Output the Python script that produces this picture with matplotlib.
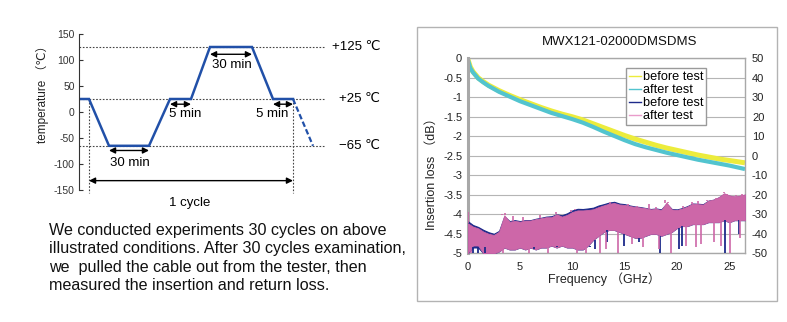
import numpy as np
import matplotlib
matplotlib.use("Agg")
import matplotlib.pyplot as plt
from matplotlib.patches import Rectangle
from matplotlib.lines import Line2D

plt.rcParams["font.family"] = ["Liberation Sans", "DejaVu Sans", "Noto Sans CJK JP"]
plt.rcParams["axes.unicode_minus"] = False

# ---------------- thermal cycle profile ----------------
profile_time = [0, 10, 30, 70, 91, 112, 131, 173, 194, 214]
profile_temp = [25, 25, -65, -65, 25, 25, 125, 125, 25, 25]
next_cycle_time = [214, 234]
next_cycle_temp = [25, -65]
level_temps = [125, 25, -65]
level_labels = ["+125 ℃", "+25 ℃", "−65 ℃"]
temp_ticks = [150, 100, 50, 0, -50, -100, -150]
dwell_labels = ["30 min", "30 min", "5 min", "5 min"]
dwell_start = [30, 131, 91, 194]
dwell_end = [70, 173, 112, 214]
cycle_start, cycle_end = 10, 214

paragraph = [
    "We conducted experiments 30 cycles on above",
    "illustrated conditions. After 30 cycles examination,",
    "we  pulled the cable out from the tester, then",
    "measured the insertion and return loss.",
]

# ---------------- insertion / return loss ----------------
il_freq = [0, 0.25, 0.5, 1, 1.5, 2, 3, 4, 5, 6, 7, 8, 9, 10, 11, 12, 13, 14, 15,
           16, 17, 18, 19, 20, 21, 22, 23, 24, 25, 26, 26.5]
il_before = [-0.01, -0.22, -0.34, -0.50, -0.60, -0.69, -0.83, -0.95, -1.06, -1.16,
             -1.26, -1.35, -1.43, -1.50, -1.58, -1.68, -1.78, -1.88, -1.98, -2.07,
             -2.15, -2.23, -2.30, -2.36, -2.42, -2.48, -2.53, -2.58, -2.62, -2.66, -2.68]
il_after = [-0.02, -0.25, -0.36, -0.52, -0.62, -0.71, -0.86, -0.98, -1.10, -1.20,
            -1.30, -1.40, -1.48, -1.56, -1.65, -1.76, -1.88, -1.99, -2.10, -2.20,
            -2.28, -2.35, -2.42, -2.48, -2.54, -2.60, -2.65, -2.70, -2.75, -2.81, -2.84]

rl_freq = [0, 0.5, 1, 1.5, 2, 2.5, 3, 3.5, 4, 4.5, 5, 5.5, 6, 6.5, 7, 7.5, 8, 8.5,
           9, 9.5, 10, 10.5, 11, 11.5, 12, 12.5, 13, 13.5, 14, 14.5, 15, 15.5, 16,
           16.5, 17, 17.5, 18, 18.5, 19, 19.5, 20, 20.5, 21, 21.5, 22, 22.5, 23,
           23.5, 24, 24.5, 25, 25.5, 26, 26.5]
# after test (pink): upper and lower edge of the trace
rl_after_hi = [-34.6, -36.3, -37.2, -38.9, -40.0, -40.6, -38.9, -30.5, -33.8, -33.4,
               -33.8, -33.2, -33.2, -32.5, -32.0, -31.5, -31.5, -30.0, -31.2, -30.3,
               -28.8, -28.0, -28.0, -27.8, -27.4, -26.3, -25.4, -24.6, -24.2, -25.0,
               -25.2, -25.8, -26.2, -26.5, -26.9, -27.5, -27.2, -27.8, -24.0, -27.5,
               -27.8, -27.0, -26.0, -24.5, -24.8, -25.0, -23.0, -22.5, -21.2, -19.2,
               -20.3, -20.8, -20.4, -19.8]
rl_after_lo = [-50, -46, -46, -50, -50, -50, -49, -47, -48, -48, -47, -48, -47, -48,
               -47, -47, -46, -47, -46, -47, -47, -48, -48, -46, -43, -41, -39, -38,
               -38, -39, -40, -41, -42, -42, -41, -40, -40, -41, -40, -39, -37, -36,
               -36, -35, -35, -35, -34, -34, -34, -33, -34, -33, -33, -33]
# before test (navy)
rl_before_hi = [-33.5, -35.5, -36.5, -38.0, -39.2, -40.0, -38.5, -31.0, -33.5, -33.0,
                -33.5, -33.0, -33.0, -32.3, -31.8, -31.2, -31.0, -30.0, -30.5, -29.5,
                -28.0, -27.2, -27.3, -27.0, -26.6, -25.5, -24.8, -24.0, -23.6, -24.5,
                -24.8, -25.5, -26.0, -26.3, -26.8, -27.3, -27.0, -27.5, -24.5, -27.3,
                -27.5, -26.8, -25.8, -24.5, -24.6, -24.8, -23.0, -22.5, -21.3, -19.5,
                -20.5, -21.0, -20.6, -20.0]
rl_before_lo = [-50, -47, -47, -50, -50, -50, -49, -47, -48, -48, -47, -48, -47, -48,
                -47, -47, -46, -47, -46, -47, -47, -48, -48, -46, -43, -41, -39, -38,
                -38, -39, -40, -41, -42, -42, -41, -40, -40, -41, -40, -39, -37, -36,
                -36, -35, -35, -35, -34, -34, -34, -33, -34, -33, -33, -33]
# single-point excursions of the traces
after_peak_f = [0.05, 3.3, 3.6, 4.3, 5.3, 6.9, 8.4, 9.9, 10.3, 12.8, 13.6, 14.1, 15.3,
                16.2, 17.3, 18.0, 18.9, 19.1, 20.6, 21.4, 22.0, 22.9, 23.7, 24.5, 24.8,
                25.6, 26.2]
after_peak_v = [-28.6, -30.0, -29.5, -31.0, -31.5, -30.5, -29.0, -28.0, -27.5, -25.0,
                -23.8, -24.2, -24.6, -25.5, -24.5, -26.0, -22.5, -23.5, -25.5, -23.5,
                -23.0, -22.5, -21.5, -18.6, -19.5, -20.0, -19.5]
after_dip_f = [0.3, 3.4, 5.9, 7.7, 10.4, 11.3, 12.6, 13.2, 14.4, 15.7, 16.8, 18.3,
               19.4, 20.9, 21.8, 22.3, 23.5, 24.2, 25.1, 26.0]
after_dip_v = [-50, -50, -50, -50, -50, -50, -50, -48, -50, -45, -47, -48, -50, -46,
               -47, -45, -44, -46, -50, -42]
before_dip_f = [0.5, 1.0, 1.7, 4.4, 6.3, 8.5, 9.8, 11.7, 12.2, 13.3, 14.9, 16.4, 18.4,
                20.2, 20.5, 24.6, 25.9]
before_dip_v = [-50, -50, -47, -48, -47, -46, -47, -47, -48, -44, -46, -44, -50, -48,
                -46, -50, -40]

legend_labels = ["before test", "after test", "before test", "after test"]

YELLOW = "#ecec3c"
CYAN = "#52c4cf"
NAVY = "#1d2a8a"
PINK = "#cd67a8"
BLUE = "#2150a8"
GRID = "#b5b5b5"
FRAME = "#a8a8a8"

W, H = 787, 322
fig = plt.figure(figsize=(W / 100, H / 100), dpi=100)


def fx(px):
    return px / W


def fy(py):
    return 1 - py / H


def edge_at(freqs, edge):
    """Value of a trace edge at the grid point nearest each frequency."""
    return [edge[rl_freq.index(round(f * 2) / 2)] for f in freqs]


# ================= left: temperature profile =================
ax1 = fig.add_axes([fx(79), fy(190), 246 / W, 156 / H])
ax1.set_xlim(0, 246)
ax1.set_ylim(-150, 150)
for s in ["top", "right", "bottom"]:
    ax1.spines[s].set_visible(False)
ax1.spines["left"].set_color("#333333")
ax1.spines["left"].set_linewidth(0.8)
ax1.set_xticks([])
ax1.set_yticks(temp_ticks)
ax1.set_yticklabels([str(t) for t in temp_ticks])
ax1.tick_params(axis="y", direction="in", length=3, width=0.8, labelsize=7.5,
                colors="#333333", pad=3)
fig.text(fx(42), fy(91), "temperature （℃）", rotation=90, ha="center",
         va="center", fontsize=8.5, color="#222222")

dot = dict(color="#444444", lw=0.8, ls=(0, (1.5, 1.5)))
for lv in level_temps:
    ax1.plot([0, 246], [lv, lv], **dot)
for t in (cycle_start, cycle_end):
    ax1.plot([t, t], [25, -155], clip_on=False, **dot)

ax1.plot(profile_time, profile_temp, color=BLUE, lw=1.8, solid_joinstyle="miter")
ax1.plot(next_cycle_time, next_cycle_temp, color=BLUE, lw=1.6, ls=(0, (2.5, 1.2)))

for lv, lab in zip(level_temps, level_labels):
    ax1.text(301, lv, lab, ha="right", va="center", fontsize=9.5, clip_on=False)

arrow = dict(arrowstyle="<|-|>", color="black", lw=1.0, mutation_scale=9,
             shrinkA=0, shrinkB=0)
arrow_y = [-74, 111, 15, 15]
label_x = [51, 153, 106, 193]
label_y = [-98, 91, -3, -3]
for lab, t0, t1, ay, lx, ly in zip(dwell_labels, dwell_start, dwell_end,
                                   arrow_y, label_x, label_y):
    ax1.annotate("", xy=(t1, ay), xytext=(t0, ay), arrowprops=arrow)
    ax1.text(lx, ly, lab, ha="center", va="center", fontsize=9.5)

ax1.annotate("", xy=(cycle_end, -132), xytext=(cycle_start, -132), arrowprops=arrow,
             annotation_clip=False)
ax1.text((cycle_start + cycle_end) / 2 - 1, -175, "1 cycle", ha="center",
         va="center", fontsize=9.5, clip_on=False)

for i, line in enumerate(paragraph):
    fig.text(fx(49), fy(235 + 18.5 * i), line, ha="left", va="baseline",
             fontsize=11.6, color="#111111")

# ================= right: insertion / return loss =================
fig.add_artist(Rectangle((fx(417), fy(301)), (777 - 417) / W, (301 - 27) / H,
                         transform=fig.transFigure, fill=False, ec="#b3b3b3", lw=1))

ax = fig.add_axes([fx(467.7), fy(253.3), (745 - 467.7) / W, (253.3 - 58.3) / H])
ax.set_xlim(0, 26.5)
ax.set_ylim(-5, 0)
ax.set_xticks([0, 5, 10, 15, 20, 25])
il_ticks = np.arange(0, -5.01, -0.5)
ax.set_yticks(il_ticks)
ax.set_yticklabels([f"{v:g}" for v in il_ticks])
ax.yaxis.grid(True, color=GRID, lw=0.8)
ax.set_axisbelow(True)
ax.tick_params(length=0, labelsize=8, colors="#222222")
ax.tick_params(axis="y", pad=4)
ax.tick_params(axis="x", pad=6)
for s in ["top", "right", "bottom"]:
    ax.spines[s].set_color(FRAME)
    ax.spines[s].set_linewidth(1)
ax.spines["left"].set_color(FRAME)
ax.spines["left"].set_linewidth(2.2)

ax.plot(il_freq, il_before, color=YELLOW, lw=3.6, solid_capstyle="butt")
ax.plot(il_freq, il_after, color=CYAN, lw=3.0, solid_capstyle="butt")

ax2 = ax.twinx()
ax2.set_ylim(-50, 50)
ax2.set_yticks(range(-50, 51, 10))
ax2.tick_params(length=0, labelsize=8, colors="#222222", pad=5)
for s in ax2.spines.values():
    s.set_visible(False)

# before test trace (drawn underneath)
ax2.fill_between(rl_freq, rl_before_lo, rl_before_hi, color=NAVY, lw=0.8,
                 edgecolor=NAVY)
ax2.vlines(before_dip_f, edge_at(before_dip_f, rl_before_lo), before_dip_v,
           color=NAVY, lw=1.3)
# after test trace
ax2.fill_between(rl_freq, rl_after_lo, rl_after_hi, color=PINK, lw=0.6,
                 edgecolor=PINK)
ax2.vlines(after_peak_f, edge_at(after_peak_f, rl_after_hi), after_peak_v,
           color=PINK, lw=1.2)
ax2.vlines(after_dip_f, edge_at(after_dip_f, rl_after_lo), after_dip_v,
           color=PINK, lw=1.2)

fig.text(fx(620), fy(42), "MWX121-02000DMSDMS", ha="center", va="center",
         fontsize=9.5, color="#111111")
fig.text(fx(432), fy(171), "Insertion loss （dB）", rotation=90, ha="center",
         va="center", fontsize=9, color="#222222")
fig.text(fx(604), fy(279), "Frequency （GHz）", ha="center", va="center",
         fontsize=9, color="#222222")

handles = [Line2D([], [], color=c, lw=1) for c in (YELLOW, CYAN, NAVY, "#e99ccb")]
ax2.legend(handles, legend_labels, loc="upper left",
           bbox_to_anchor=(fx(626), fy(68)), bbox_transform=fig.transFigure,
           frameon=True, fancybox=False, edgecolor="#9a9a9a", framealpha=1,
           fontsize=9.2, handlelength=0.9, handletextpad=0.15, labelspacing=0.08,
           borderpad=0.25, borderaxespad=0)

fig.savefig("out.png", dpi=100)
